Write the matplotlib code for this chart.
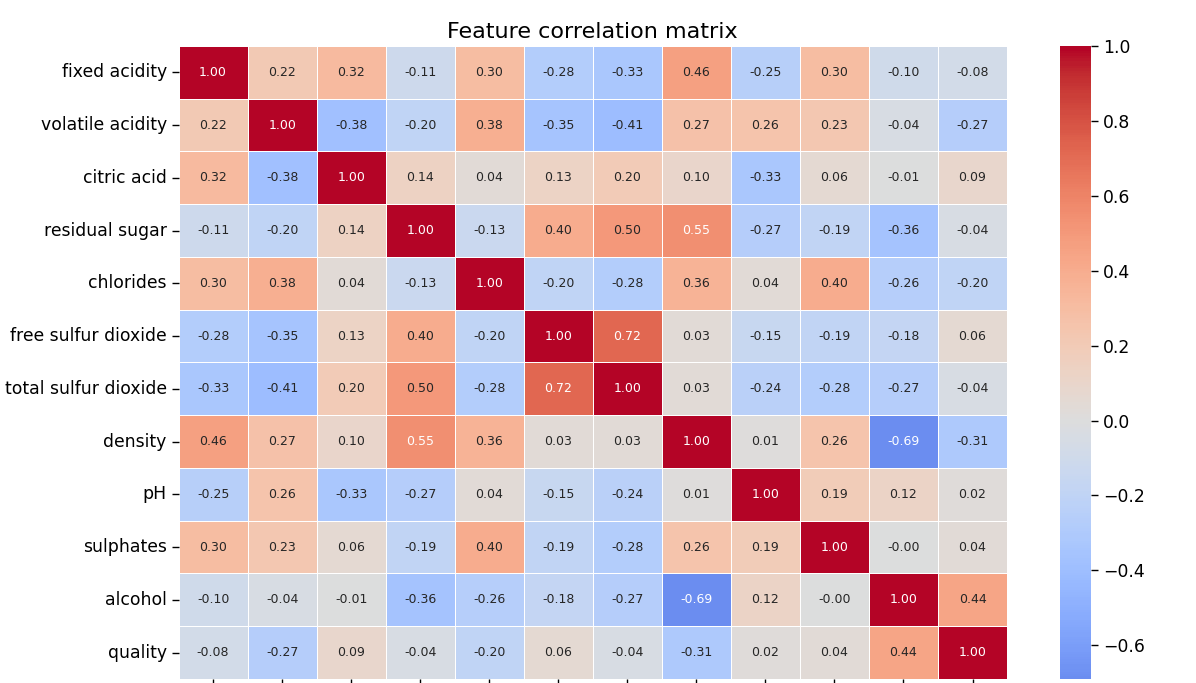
import numpy as np
import pandas as pd
import seaborn as sns
from matplotlib import pyplot as plt

features = ["fixed acidity", "volatile acidity", "citric acid", "residual sugar",
            "chlorides", "free sulfur dioxide", "total sulfur dioxide", "density",
            "pH", "sulphates", "alcohol", "quality"]

# correlation rows
fixed_acidity = [1.00, 0.22, 0.32, -0.11, 0.30, -0.28, -0.33, 0.46, -0.25, 0.30, -0.10, -0.08]
volatile_acidity = [0.22, 1.00, -0.38, -0.20, 0.38, -0.35, -0.41, 0.27, 0.26, 0.23, -0.04, -0.27]
citric_acid = [0.32, -0.38, 1.00, 0.14, 0.04, 0.13, 0.20, 0.10, -0.33, 0.06, -0.01, 0.09]
residual_sugar = [-0.11, -0.20, 0.14, 1.00, -0.13, 0.40, 0.50, 0.55, -0.27, -0.19, -0.36, -0.04]
chlorides = [0.30, 0.38, 0.04, -0.13, 1.00, -0.20, -0.28, 0.36, 0.04, 0.40, -0.26, -0.20]
free_so2 = [-0.28, -0.35, 0.13, 0.40, -0.20, 1.00, 0.72, 0.03, -0.15, -0.19, -0.18, 0.06]
total_so2 = [-0.33, -0.41, 0.20, 0.50, -0.28, 0.72, 1.00, 0.03, -0.24, -0.28, -0.27, -0.04]
density = [0.46, 0.27, 0.10, 0.55, 0.36, 0.03, 0.03, 1.00, 0.01, 0.26, -0.69, -0.31]
ph = [-0.25, 0.26, -0.33, -0.27, 0.04, -0.15, -0.24, 0.01, 1.00, 0.19, 0.12, 0.02]
sulphates = [0.30, 0.23, 0.06, -0.19, 0.40, -0.19, -0.28, 0.26, 0.19, 1.00, -0.0, 0.04]
alcohol = [-0.10, -0.04, -0.01, -0.36, -0.26, -0.18, -0.27, -0.69, 0.12, -0.0, 1.00, 0.44]
quality = [-0.08, -0.27, 0.09, -0.04, -0.20, 0.06, -0.04, -0.31, 0.02, 0.04, 0.44, 1.00]

corr = pd.DataFrame([fixed_acidity, volatile_acidity, citric_acid, residual_sugar,
                     chlorides, free_so2, total_so2, density, ph, sulphates,
                     alcohol, quality], index=features, columns=features)

fig = plt.figure(figsize=(11.96, 6.83), dpi=100)
ax = fig.add_axes([0.1493, 0.0059, 0.6927, 0.9268])
cax = fig.add_axes([0.8863, 0.0059, 0.0259, 0.9268])

sns.heatmap(corr, annot=True, fmt=".2f", cmap="coolwarm", center=0,
            linewidths=0.6, linecolor="white", ax=ax, cbar_ax=cax,
            annot_kws={"fontsize": 9})

ax.set_title("Feature correlation matrix", fontsize=16, pad=6)
ax.tick_params(axis="both", labelsize=12.4, length=5, width=1)
ax.set_yticklabels(features, rotation=0)
ax.set_xticklabels(features, rotation=90)
cax.tick_params(labelsize=12.4, length=5, width=1)

fig.savefig("out.png", dpi=100)
